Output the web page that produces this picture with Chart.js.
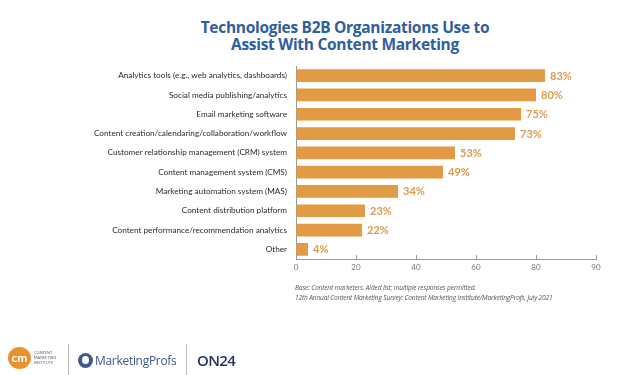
<!DOCTYPE html>
<html>
<head>
<meta charset="utf-8">
<script src="https://cdn.jsdelivr.net/npm/chart.js@4"></script>
<style>
  body { margin: 0; background: #fff; width: 638px; height: 375px; overflow: hidden; position: relative; font-family: Lato, "Open Sans", sans-serif; }
  #title { position: absolute; left: 145px; width: 400px; top: 19px; text-align: center; color: #2f5e9c; font-weight: bold; font-size: 15.5px; line-height: 17px; letter-spacing: -0.3px; font-family: "Open Sans", sans-serif; }
  #chartBox { position: absolute; left: 0; top: 0; width: 638px; height: 375px; }
  .note { position: absolute; left: 295px; font-style: italic; color: #555; font-size: 6.6px; font-family: "Open Sans", sans-serif; letter-spacing: -0.15px; }
  .sep { position: absolute; top: 344px; width: 1px; height: 31px; background: #bbb; }
  #cmi { position: absolute; left: 8px; top: 347px; width: 23px; height: 22px; border-radius: 50%; background: #e8912e; color: #fff; font: bold 12px Lato, sans-serif; text-align: center; line-height: 21px; }
  #cmiText { position: absolute; left: 34px; top: 350px; font: 4px "Open Sans", sans-serif; line-height: 5px; color: #555; }
  #mpIcon { position: absolute; left: 78px; top: 353px; width: 15px; height: 15px; border-radius: 50%; background: #3d5a8a; }
  #mpIcon:after { content: ""; position: absolute; left: 4px; top: 3px; width: 7px; height: 8px; border-radius: 50%; background: #fff; }
  #mp { position: absolute; left: 95px; top: 352px; font: 12px "Open Sans", sans-serif; color: #3d5a8a; letter-spacing: -0.3px; }
  #on24 { position: absolute; left: 197px; top: 350px; font: 600 15px "Open Sans", sans-serif; color: #243266; letter-spacing: -0.6px; }
</style>
</head>
<body>
<div id="title">Technologies B2B Organizations Use to<br>Assist With Content Marketing</div>
<div id="chartBox"><canvas id="chart"></canvas></div>
<div class="note" style="top:283px">Base: Content marketers. Aided list; multiple responses permitted.</div>
<div class="note" style="top:293px">12th Annual Content Marketing Survey: Content Marketing Institute/MarketingProfs, July 2021</div>
<div id="cmi">cm</div>
<div id="cmiText">CONTENT<br>MARKETING<br>INSTITUTE</div>
<div class="sep" style="left:68px"></div>
<div id="mpIcon"></div>
<div id="mp">MarketingProfs</div>
<div class="sep" style="left:186px"></div>
<div id="on24">ON24</div>

<script>
const categories = [
    'Analytics tools (e.g., web analytics, dashboards)',
    'Social media publishing/analytics',
    'Email marketing software',
    'Content creation/calendaring/collaboration/workflow',
    'Customer relationship management (CRM) system',
    'Content management system (CMS)',
    'Marketing automation system (MAS)',
    'Content distribution platform',
    'Content performance/recommendation analytics',
    'Other'
];
const values = [83, 80, 75, 73, 53, 49, 34, 23, 22, 4];
const tickLabels = ['0', '20', '40', '60', '80', '90'];

const barColor = '#e39a45';

// value labels at the end of each bar, small ticks pointing up from the x axis
const extras = {
    id: 'extras',
    afterDatasetsDraw(chart) {
        const ctx = chart.ctx;
        const meta = chart.getDatasetMeta(0);
        ctx.save();
        ctx.font = 'bold 11px Lato, sans-serif';
        ctx.fillStyle = '#e09a4c';
        ctx.textBaseline = 'middle';
        meta.data.forEach((bar, i) => {
            ctx.fillText(values[i] + '%', bar.x + 5, bar.y + 0.5);
        });
        const x = chart.scales.x;
        ctx.strokeStyle = '#999';
        ctx.lineWidth = 1;
        x.ticks.forEach(t => {
            const px = Math.round(x.getPixelForValue(t.value)) + 0.5;
            ctx.beginPath();
            ctx.moveTo(px, x.top);
            ctx.lineTo(px, x.top - 4);
            ctx.stroke();
        });
        ctx.restore();
    }
};

const ctx = document.getElementById('chart').getContext('2d');
const chart = new Chart(ctx, {
    type: 'bar',
    data: {
        labels: categories,
        datasets: [{
            data: values,
            backgroundColor: barColor,
            barPercentage: 0.66,
            categoryPercentage: 1
        }]
    },
    options: {
        indexAxis: 'y',
        responsive: true,
        maintainAspectRatio: false,
        animation: false,
        layout: { padding: { left: 0, right: 42, top: 66, bottom: 96 } },
        plugins: { legend: { display: false }, tooltip: { enabled: false } },
        scales: {
            x: {
                min: 0,
                max: 100,
                afterFit(scale) { scale.height = 20; },
                ticks: {
                    stepSize: 20,
                    color: '#777',
                    font: { size: 8, family: 'Lato, sans-serif' },
                    padding: 4,
                    maxRotation: 0,
                    callback: (v, i) => tickLabels[i]
                },
                grid: { drawOnChartArea: false, drawTicks: false, color: '#999' },
                border: { color: '#999' }
            },
            y: {
                afterFit(scale) { scale.width = 296; },
                ticks: {
                    color: '#2a2a2a',
                    font: { size: 8.2, family: 'Lato, sans-serif' },
                    padding: 1
                },
                grid: { display: false },
                border: { color: '#999' }
            }
        }
    },
    plugins: [extras]
});
</script>
</body>
</html>
